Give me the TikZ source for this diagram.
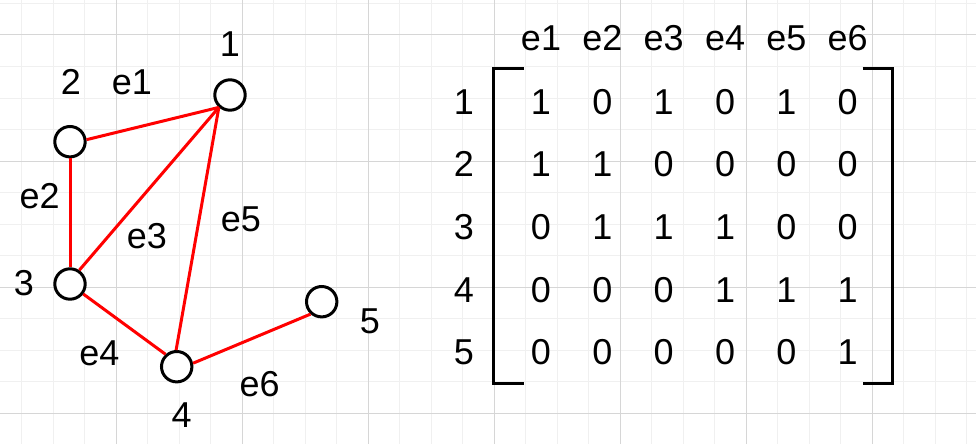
\documentclass[tikz,border=0pt]{standalone}
\usepackage{fontspec}
\setmainfont{Liberation Sans}
\definecolor{gridminor}{RGB}{240,240,240}
\definecolor{gridmajor}{RGB}{214,214,214}
\definecolor{edgered}{RGB}{255,0,0}
\begin{document}
\begin{tikzpicture}[x=1pt,y=-1pt,
  vert/.style={circle,draw=black,line width=3pt,fill=white,minimum size=30.4pt,inner sep=0pt},
  lbl/.style={inner sep=0pt,font=\fontsize{36}{43}\selectfont},
  edge/.style={draw=edgered,line width=3pt},
  brk/.style={draw=black,line width=3pt},
  minorline/.style={draw=gridminor,line width=1pt},
  majorline/.style={draw=gridmajor,line width=1pt}]
\fill[white] (0,0) rectangle (976,444);
\useasboundingbox (0,0) rectangle (976,444);
% grid
\foreach \i in {-3,...,27} \draw[minorline] ({116.3+31.5*\i},0) -- ({116.3+31.5*\i},444);
\foreach \j in {-1,...,12} \draw[minorline] (0,{35+31.5*\j}) -- (976,{35+31.5*\j});
\foreach \i in {0,...,6} \draw[majorline] ({116.3+126*\i},0) -- ({116.3+126*\i},444);
\foreach \j in {0,...,3} \draw[majorline] (0,{35+126*\j}) -- (976,{35+126*\j});
% graph vertices
\node[vert] (n1) at (230,95) {};
\node[vert] (n2) at (70,141.7) {};
\node[vert] (n3) at (70,284) {};
\node[vert] (n4) at (176.7,366.7) {};
\node[vert] (n5) at (321.7,301.7) {};
% vertex labels
\node[lbl] (l1) at (230,44.2) {1};
\node[lbl] (l2) at (71,82) {2};
\node[lbl] (l3) at (24,283) {3};
\node[lbl] (l4) at (181.7,415) {4};
\node[lbl] (l5) at (370,321) {5};
% edge labels
\node[lbl] (le1) at (132,82) {e1};
\node[lbl] (le2) at (39.7,196) {e2};
\node[lbl] (le3) at (147,236) {e3};
\node[lbl] (le4) at (99.5,353) {e4};
\node[lbl] (le5) at (241,219) {e5};
\node[lbl] (le6) at (259.7,384) {e6};
% edges
\draw[edge] (n2.7) -- (n1.228);
\draw[edge] (n2.270) -- (n3.90);
\draw[edge] (n3.56) -- (n1.228);
\draw[edge] (n3.-37) -- (n4.132);
\draw[edge] (n1.228) -- (n4.92);
\draw[edge] (n4.12) -- (n5.228);
% matrix
\foreach \c in {1,...,6}
  \node[lbl] (h\c) at ({541+61.34*(\c-1)},38.3) {e\c};
\foreach \r/\vals in {1/{1,0,1,0,1,0},2/{1,1,0,0,0,0},3/{0,1,1,1,0,0},4/{0,0,0,1,1,1},5/{0,0,0,0,0,1}} {
  \node[lbl] (r\r) at (464,{101.7+62.68*(\r-1)}) {\r};
  \foreach \v [count=\c] in \vals
    \node[lbl] (m\r\c) at ({541+61.34*(\c-1)},{101.7+62.68*(\r-1)}) {\v};
}
% brackets
\draw[brk] (524,68.3) -- (493.3,68.3) -- (493.3,383.3) -- (524,383.3);
\draw[brk] (862.7,68.3) -- (892.3,68.3) -- (892.3,383.3) -- (862.7,383.3);
\end{tikzpicture}
\end{document}
